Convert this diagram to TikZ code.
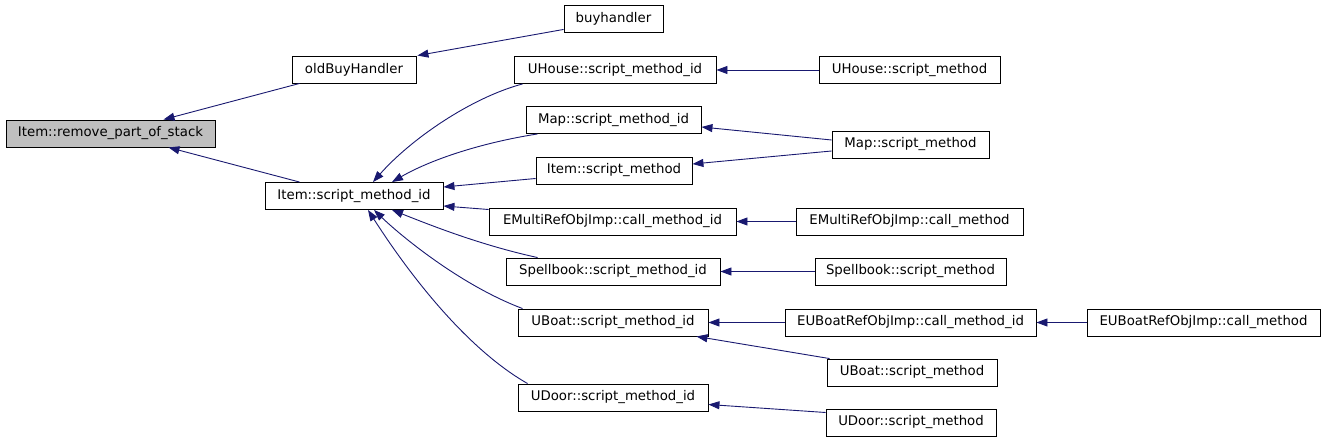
\documentclass[tikz,border=0pt]{standalone}
\usepackage{fontspec}
\setmainfont{DejaVu Sans}
\usetikzlibrary{arrows.meta}
\definecolor{edgec}{RGB}{25,25,112}
\definecolor{hl}{RGB}{191,191,191}
\tikzset{
  box/.style={draw=black, line width=0.9pt, inner sep=0pt, minimum height=27pt,
    font=\fontsize{13.3}{16}\selectfont, text=black},
  arr/.style={draw=edgec, line width=0.9pt, -{Triangle[length=11pt,width=8pt]}},
}
\begin{document}
\begin{tikzpicture}[x=1pt,y=-1pt]
\useasboundingbox (0,0) rectangle (1325,443);
\node[box, fill=hl, minimum width=209pt] (remove) at (110.5,133.5) {Item::remove\_part\_of\_stack};
\node[box, minimum width=178pt] (smid) at (354,196) {Item::script\_method\_id};
\node[box, minimum width=124pt] (obh) at (354,69.5) {oldBuyHandler};
\node[box, minimum width=99pt] (buy) at (613.5,18.5) {buyhandler};
\node[box, minimum width=202pt] (uhid) at (615,70) {UHouse::script\_method\_id};
\node[box, minimum width=181pt] (uhsm) at (909.5,70) {UHouse::script\_method};
\node[box, minimum width=175pt] (mapid) at (613.5,120) {Map::script\_method\_id};
\node[box, minimum width=157pt] (mapsm) at (910.5,144.5) {Map::script\_method};
\node[box, minimum width=156pt] (itsm) at (614,170.5) {Item::script\_method};
\node[box, minimum width=247pt] (emid) at (612.5,221.5) {EMultiRefObjImp::call\_method\_id};
\node[box, minimum width=227pt] (emsm) at (909.5,221.5) {EMultiRefObjImp::call\_method};
\node[box, minimum width=214pt] (sbid) at (613,271.5) {Spellbook::script\_method\_id};
\node[box, minimum width=191pt] (sbsm) at (910.5,271.5) {Spellbook::script\_method};
\node[box, minimum width=190pt] (ubid) at (613,322.5) {UBoat::script\_method\_id};
\node[box, minimum width=251pt] (eubid) at (910.5,322.5) {EUBoatRefObjImp::call\_method\_id};
\node[box, minimum width=233pt] (eubsm) at (1203.5,322.5) {EUBoatRefObjImp::call\_method};
\node[box, minimum width=170pt] (ubsm) at (912,372.5) {UBoat::script\_method};
\node[box, minimum width=190pt] (udid) at (613,397.5) {UDoor::script\_method\_id};
\node[box, minimum width=170pt] (udsm) at (911,422.5) {UDoor::script\_method};

\draw[arr] ([xshift=8pt]obh.south west) -- ([xshift=53pt]remove.north);
\draw[arr] ([xshift=35pt]smid.north west) -- ([xshift=58pt]remove.south);
\draw[arr] ([yshift=3pt]buy.south west) -- ([xshift=1pt]obh.north east);
\draw[arr] ([xshift=9pt]uhid.south west) .. controls (470,98) and (410,140) .. ([xshift=19pt]smid.north);
\draw[arr] ([xshift=12pt]mapid.south west) .. controls (480,143) and (430,160) .. ([xshift=38pt]smid.north);
\draw[arr] ([yshift=-8pt]itsm.west) -- ([yshift=9pt]smid.east);
\draw[arr] ([yshift=12pt]emid.west) -- ([yshift=-10pt]smid.east);
\draw[arr] ([xshift=32pt]sbid.north west) .. controls (480,245) and (430,225) .. ([xshift=38pt]smid.south);
\draw[arr] ([xshift=5pt]ubid.north west) .. controls (460,285) and (400,235) .. ([xshift=20pt]smid.south);
\draw[arr] ([xshift=10pt]udid.north west) .. controls (460,345) and (400,260) .. ([xshift=14pt]smid.south);
\draw[arr] (uhsm.west) -- (uhid.east);
\draw[arr] ([yshift=4.5pt]mapsm.west) -- ([yshift=-7pt]mapid.east);
\draw[arr] ([yshift=-6.5pt]mapsm.west) -- ([yshift=6.5pt]itsm.east);
\draw[arr] (emsm.west) -- (emid.east);
\draw[arr] (sbsm.west) -- (sbid.east);
\draw[arr] (eubid.west) -- (ubid.east);
\draw[arr] (eubsm.west) -- (eubid.east);
\draw[arr] ([xshift=3pt]ubsm.north west) -- ([xshift=-12pt]ubid.south east);
\draw[arr] ([yshift=10pt]udsm.west) -- ([yshift=-7pt]udid.east);
\end{tikzpicture}
\end{document}
